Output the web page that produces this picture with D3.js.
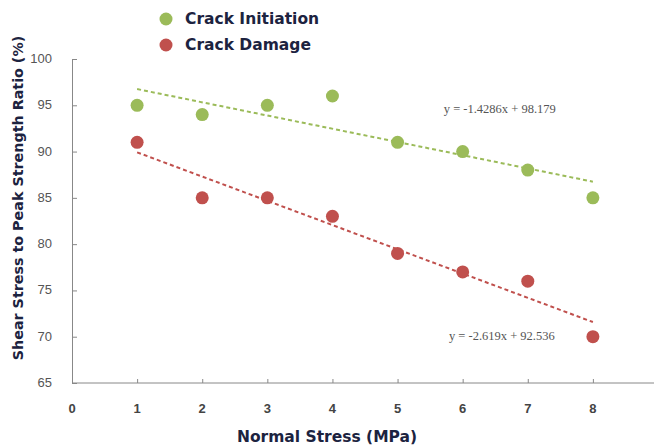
<!DOCTYPE html>
<html>
<head>
<meta charset="utf-8">
<script src="https://cdn.jsdelivr.net/npm/d3@7"></script>
<style>
  body { margin: 0; background: #fff; }
  svg { display: block; }
</style>
</head>
<body>
<svg></svg>
<script>
const width = 654;
const height = 447;

const stress = [1, 2, 3, 4, 5, 6, 7, 8];
const initiation = [95, 94, 95, 96, 91, 90, 88, 85];
const damage = [91, 85, 85, 83, 79, 77, 76, 70];
const xTicks = [0, 1, 2, 3, 4, 5, 6, 7, 8, 9];
const yTicks = [65, 70, 75, 80, 85, 90, 95, 100];
const fits = [
  { name: 'Crack Initiation', color: '#9bbb59', values: initiation, slope: -1.4286, icpt: 98.179, label: 'y = -1.4286x + 98.179', lx: 5.71, ly: 94.2 },
  { name: 'Crack Damage', color: '#c0504d', values: damage, slope: -2.619, icpt: 92.536, label: 'y = -2.619x + 92.536', lx: 5.79, ly: 69.6 }
];

const svg = d3.select('svg')
  .attr('width', width)
  .attr('height', height);

const x = d3.scaleLinear().domain([0, 9]).range([72, 658]);
const y = d3.scaleLinear().domain([65, 100]).range([383, 59]);

// axes
const xAxis = svg.append('g')
  .attr('transform', `translate(0,${y(65)})`)
  .call(d3.axisTop(x).tickValues(xTicks).tickSize(4).tickFormat(''));
xAxis.selectAll('line, path').attr('stroke', '#888');
xAxis.select('.domain').attr('d', `M${x(0)},0H${width}`);

svg.append('g').selectAll('text')
  .data(xTicks)
  .enter()
  .append('text')
    .attr('x', d => x(d))
    .attr('y', 413)
    .attr('text-anchor', 'middle')
    .attr('font-family', 'Liberation Sans Narrow, Liberation Sans, sans-serif')
    .attr('font-weight', 'bold')
    .attr('font-size', 13)
    .attr('fill', '#444')
    .text(d => d);

const yAxis = svg.append('g')
  .attr('transform', `translate(${x(0)},0)`)
  .call(d3.axisRight(y).tickValues(yTicks).tickSize(5).tickSizeOuter(5).tickFormat(''));
yAxis.selectAll('line, path').attr('stroke', '#888');

svg.append('g').selectAll('text')
  .data(yTicks)
  .enter()
  .append('text')
    .attr('x', 52)
    .attr('y', d => y(d) + 4)
    .attr('text-anchor', 'end')
    .attr('font-family', 'Liberation Sans Narrow, Liberation Sans, sans-serif')
    .attr('font-size', 13)
    .attr('fill', '#555')
    .text(d => d);

// axis titles
svg.append('text')
  .attr('x', 327)
  .attr('y', 442)
  .attr('text-anchor', 'middle')
  .attr('font-family', 'DejaVu Sans, sans-serif')
  .attr('font-weight', 'bold')
  .attr('font-size', 15.5)
  .attr('fill', '#1c2340')
  .text('Normal Stress (MPa)');

svg.append('text')
  .attr('transform', 'translate(23,198) rotate(-90)')
  .attr('text-anchor', 'middle')
  .attr('font-family', 'DejaVu Sans, sans-serif')
  .attr('font-weight', 'bold')
  .attr('font-size', 14.3)
  .attr('fill', '#1c2340')
  .text('Shear Stress to Peak Strength Ratio (%)');

// trend lines, points, equations
fits.forEach(s => {
  svg.append('line')
    .attr('x1', x(1))
    .attr('y1', y(s.slope * 1 + s.icpt))
    .attr('x2', x(8))
    .attr('y2', y(s.slope * 8 + s.icpt))
    .attr('stroke', s.color)
    .attr('stroke-width', 2)
    .attr('stroke-dasharray', '4,3');

  svg.append('g').selectAll('circle')
    .data(s.values)
    .enter()
    .append('circle')
      .attr('cx', (d, i) => x(stress[i]))
      .attr('cy', d => y(d))
      .attr('r', 6.5)
      .attr('fill', s.color);

  svg.append('text')
    .attr('x', x(s.lx))
    .attr('y', y(s.ly))
    .attr('font-family', 'Liberation Serif, serif')
    .attr('font-size', 12.5)
    .attr('fill', '#555')
    .text(s.label);
});

// legend
const legend = svg.append('g').selectAll('g')
  .data(fits)
  .enter()
  .append('g')
    .attr('transform', (d, i) => `translate(166,${19 + i * 26})`);

legend.append('circle')
  .attr('r', 6.5)
  .attr('fill', d => d.color);

legend.append('text')
  .attr('x', 19)
  .attr('y', 5)
  .attr('font-family', 'DejaVu Sans, sans-serif')
  .attr('font-weight', 'bold')
  .attr('font-size', 15.5)
  .attr('fill', '#1c2340')
  .text(d => d.name);
</script>
</body>
</html>
